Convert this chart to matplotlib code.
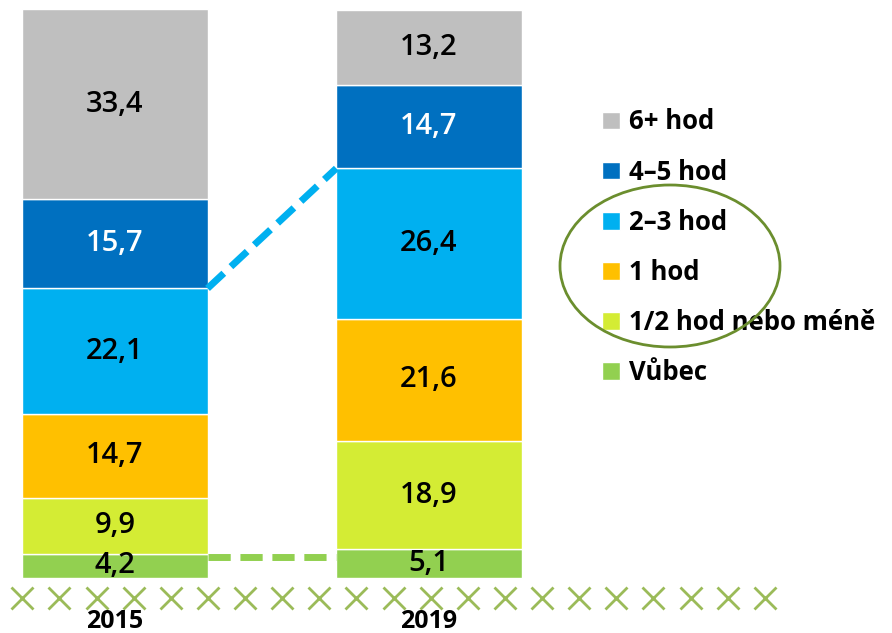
import numpy as np
import matplotlib.pyplot as plt
from matplotlib.patches import Ellipse

plt.rcParams['font.family'] = ['Open Sans', 'DejaVu Sans']

# Data
years = ['2015', '2019']
categories = ['Vůbec', '1/2 hod nebo méně', '1 hod', '2–3 hod', '4–5 hod', '6+ hod']
values = {
    'Vůbec': [4.2, 5.1],
    '1/2 hod nebo méně': [9.9, 18.9],
    '1 hod': [14.7, 21.6],
    '2–3 hod': [22.1, 26.4],
    '4–5 hod': [15.7, 14.7],
    '6+ hod': [33.4, 13.2],
}
colors = ['#92D050', '#D4EC34', '#FFC000', '#00B0F0', '#0070C0', '#BFBFBF']
label_colors = ['black', 'black', 'black', 'black', 'white', 'black']

fig = plt.figure(figsize=(8.92, 6.33), dpi=100)
ax = fig.add_axes([0, 0, 1, 1])
ax.set_xlim(-0.366, 2.475)
ax.set_ylim(-9.68, 101.6)
ax.axis('off')

x = np.arange(len(years))
width = 0.59
bottom = np.zeros(len(years))
handles = []
for cat, col, lc in zip(categories, colors, label_colors):
    vals = np.array(values[cat])
    b = ax.bar(x, vals, width, bottom=bottom, color=col, edgecolor='white', linewidth=1, label=cat)
    handles.append(b)
    for xi, v, bt in zip(x, vals, bottom):
        ax.text(xi, bt + v / 2, f'{v:.1f}'.replace('.', ','), ha='center', va='center',
                fontsize=21, fontweight='semibold', color=lc)
    bottom += vals

# connecting dashed lines
cum = np.cumsum([values[c] for c in categories], axis=0)
x0 = x[0] + width / 2
x1 = x[1] - width / 2
ax.plot([x0, x1], [cum[3][0], cum[3][1]], color='#00B0F0', lw=5, dashes=(3.2, 1.4))
ax.plot([x0, x1], [cum[0][0] - 0.5, cum[0][0] - 0.5], color='#92D050', lw=5, dashes=(3.2, 1.4))

# decorative axis of crosses
xs = np.linspace(-0.295, 2.07, 21)
ax.plot(xs, np.full_like(xs, -3.5), linestyle='none', marker='x', markersize=16,
        markeredgewidth=2, color='#9BBB59', clip_on=False)

for xi, yr in zip(x, years):
    ax.text(xi, -7.6, yr, ha='center', va='center', fontsize=18, fontweight='bold')

leg = ax.legend(handles[::-1], categories[::-1], loc='upper left', bbox_to_anchor=(0.661, 0.849),
                frameon=False, handlelength=0.68, handleheight=0.68, handletextpad=0.35,
                labelspacing=0.9, borderpad=0, prop={'size': 18.5, 'weight': 'bold'})

ell = Ellipse((670 / 892, 1 - 266 / 633), 220 / 892, 162 / 633, transform=fig.transFigure,
              fill=False, edgecolor='#6B8E2E', lw=2)
fig.patches.append(ell)

fig.savefig('out.png', dpi=100)
